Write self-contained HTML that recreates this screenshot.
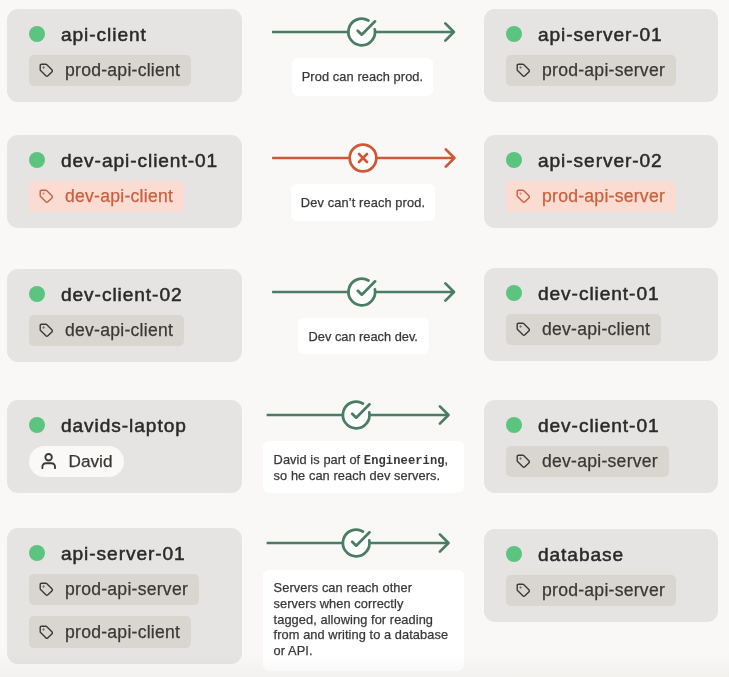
<!DOCTYPE html>
<html><head><meta charset="utf-8"><style>
html,body{margin:0;padding:0}
body{width:729px;height:677px;background:#f9f8f6;position:relative;overflow:hidden;font-family:"Liberation Sans",sans-serif}
.card{position:absolute;background:#e5e4e2;border-radius:11px;box-sizing:border-box;will-change:transform}
.dot{position:absolute;left:21.6px;top:17.45px;width:16px;height:16px;border-radius:50%;background:#5bc47e}
.title{position:absolute;left:53.7px;top:13.6px;font-size:18.5px;line-height:24px;font-weight:400;letter-spacing:0.9px;-webkit-text-stroke:0.5px #2a2a2a;color:#2a2a2a;white-space:nowrap;transform:scaleX(1.033);transform-origin:0 0}
.tag{position:absolute;left:21.7px;height:31.5px;background:#d9d6d0;border-radius:5px;color:#3a3835;font-size:17.6px;line-height:31.5px;white-space:nowrap;padding:0 11px 0 36.3px;box-sizing:border-box}
.tag span{position:relative;top:0.6px;letter-spacing:0.25px;-webkit-text-stroke:0.25px currentColor}
.tag.red{background:#fbdcd2;color:#ca5f3e}
.ti{position:absolute;left:10.2px;top:8.6px;width:14.5px;height:14.5px}
.pill{position:absolute;left:21.5px;height:31.7px;background:#faf9f7;border-radius:16px;color:#3a3835;font-size:17.2px;line-height:31.7px;white-space:nowrap;padding:0 11.5px 0 40px;box-sizing:border-box}
.pill span{position:relative;top:0.8px;-webkit-text-stroke:0.25px currentColor}
.ui{position:absolute;left:12.2px;top:7.9px;width:16px;height:16px}
.arr{position:absolute;left:0}
.cap{position:absolute;will-change:transform;background:#fff;border-radius:6px;box-sizing:border-box;color:#383838;font-size:12.8px;line-height:15.8px;letter-spacing:0.1px;-webkit-text-stroke:0.25px #383838}
.c1{text-align:center;white-space:nowrap}
.cl{padding-left:10.6px;white-space:nowrap;letter-spacing:0.08px}
.mono{font-family:"Liberation Mono",monospace;font-weight:700;font-size:12.1px;-webkit-text-stroke:0;line-height:0}
.fade{position:absolute;left:0;top:652px;width:729px;height:25px;background:linear-gradient(to bottom, rgba(40,30,20,0), rgba(40,30,20,0.03))}
</style></head><body>
<div class="card" style="left:7.0px;top:9.1px;width:234.5px;height:93.45px"><div class="dot"></div><div class="title">api-client</div><div class="tag" style="top:45.5px"><svg class="ti" viewBox="0 0 24 24" fill="none" stroke="#3a3835" stroke-width="2.3" stroke-linecap="round" stroke-linejoin="round"><path d="M12.586 2.586A2 2 0 0 0 11.172 2H4a2 2 0 0 0-2 2v7.172a2 2 0 0 0 .586 1.414l8.704 8.704a2.426 2.426 0 0 0 3.42 0l6.58-6.58a2.426 2.426 0 0 0 0-3.42z"/><circle cx="7.5" cy="7.5" r=".45" fill="#3a3835"/></svg><span>prod-api-client</span></div></div><div class="card" style="left:7.0px;top:134.5px;width:234.5px;height:93.45px"><div class="dot"></div><div class="title">dev-api-client-01</div><div class="tag red" style="top:45.5px"><svg class="ti" viewBox="0 0 24 24" fill="none" stroke="#ca5f3e" stroke-width="2.3" stroke-linecap="round" stroke-linejoin="round"><path d="M12.586 2.586A2 2 0 0 0 11.172 2H4a2 2 0 0 0-2 2v7.172a2 2 0 0 0 .586 1.414l8.704 8.704a2.426 2.426 0 0 0 3.42 0l6.58-6.58a2.426 2.426 0 0 0 0-3.42z"/><circle cx="7.5" cy="7.5" r=".45" fill="#ca5f3e"/></svg><span>dev-api-client</span></div></div><div class="card" style="left:7.0px;top:268.7px;width:234.5px;height:93.45px"><div class="dot"></div><div class="title">dev-client-02</div><div class="tag" style="top:45.5px"><svg class="ti" viewBox="0 0 24 24" fill="none" stroke="#3a3835" stroke-width="2.3" stroke-linecap="round" stroke-linejoin="round"><path d="M12.586 2.586A2 2 0 0 0 11.172 2H4a2 2 0 0 0-2 2v7.172a2 2 0 0 0 .586 1.414l8.704 8.704a2.426 2.426 0 0 0 3.42 0l6.58-6.58a2.426 2.426 0 0 0 0-3.42z"/><circle cx="7.5" cy="7.5" r=".45" fill="#3a3835"/></svg><span>dev-api-client</span></div></div><div class="card" style="left:7.0px;top:399.7px;width:234.5px;height:93.45px"><div class="dot"></div><div class="title">davids-laptop</div><div class="pill" style="top:45.5px"><svg class="ui" viewBox="0 0 16 16" fill="none" stroke="#3a3835" stroke-width="1.85" stroke-linecap="round"><circle cx="7.6" cy="4.25" r="3.25"/><path d="M1.4 15.2v-1.5a3.5 3.5 0 0 1 3.5-3.5h5.6a3.5 3.5 0 0 1 3.5 3.5v1.5"/></svg><span>David</span></div></div><div class="card" style="left:7.0px;top:528.0px;width:234.5px;height:135.5px"><div class="dot"></div><div class="title">api-server-01</div><div class="tag" style="top:45.5px"><svg class="ti" viewBox="0 0 24 24" fill="none" stroke="#3a3835" stroke-width="2.3" stroke-linecap="round" stroke-linejoin="round"><path d="M12.586 2.586A2 2 0 0 0 11.172 2H4a2 2 0 0 0-2 2v7.172a2 2 0 0 0 .586 1.414l8.704 8.704a2.426 2.426 0 0 0 3.42 0l6.58-6.58a2.426 2.426 0 0 0 0-3.42z"/><circle cx="7.5" cy="7.5" r=".45" fill="#3a3835"/></svg><span>prod-api-server</span></div><div class="tag" style="top:88.4px"><svg class="ti" viewBox="0 0 24 24" fill="none" stroke="#3a3835" stroke-width="2.3" stroke-linecap="round" stroke-linejoin="round"><path d="M12.586 2.586A2 2 0 0 0 11.172 2H4a2 2 0 0 0-2 2v7.172a2 2 0 0 0 .586 1.414l8.704 8.704a2.426 2.426 0 0 0 3.42 0l6.58-6.58a2.426 2.426 0 0 0 0-3.42z"/><circle cx="7.5" cy="7.5" r=".45" fill="#3a3835"/></svg><span>prod-api-client</span></div></div><div class="card" style="left:484.1px;top:9.0px;width:234.2px;height:93.45px"><div class="dot"></div><div class="title">api-server-01</div><div class="tag" style="top:45.5px"><svg class="ti" viewBox="0 0 24 24" fill="none" stroke="#3a3835" stroke-width="2.3" stroke-linecap="round" stroke-linejoin="round"><path d="M12.586 2.586A2 2 0 0 0 11.172 2H4a2 2 0 0 0-2 2v7.172a2 2 0 0 0 .586 1.414l8.704 8.704a2.426 2.426 0 0 0 3.42 0l6.58-6.58a2.426 2.426 0 0 0 0-3.42z"/><circle cx="7.5" cy="7.5" r=".45" fill="#3a3835"/></svg><span>prod-api-server</span></div></div><div class="card" style="left:484.1px;top:134.7px;width:234.2px;height:93.45px"><div class="dot"></div><div class="title">api-server-02</div><div class="tag red" style="top:45.5px"><svg class="ti" viewBox="0 0 24 24" fill="none" stroke="#ca5f3e" stroke-width="2.3" stroke-linecap="round" stroke-linejoin="round"><path d="M12.586 2.586A2 2 0 0 0 11.172 2H4a2 2 0 0 0-2 2v7.172a2 2 0 0 0 .586 1.414l8.704 8.704a2.426 2.426 0 0 0 3.42 0l6.58-6.58a2.426 2.426 0 0 0 0-3.42z"/><circle cx="7.5" cy="7.5" r=".45" fill="#ca5f3e"/></svg><span>prod-api-server</span></div></div><div class="card" style="left:484.1px;top:268.4px;width:234.2px;height:93.45px"><div class="dot"></div><div class="title">dev-client-01</div><div class="tag" style="top:45.5px"><svg class="ti" viewBox="0 0 24 24" fill="none" stroke="#3a3835" stroke-width="2.3" stroke-linecap="round" stroke-linejoin="round"><path d="M12.586 2.586A2 2 0 0 0 11.172 2H4a2 2 0 0 0-2 2v7.172a2 2 0 0 0 .586 1.414l8.704 8.704a2.426 2.426 0 0 0 3.42 0l6.58-6.58a2.426 2.426 0 0 0 0-3.42z"/><circle cx="7.5" cy="7.5" r=".45" fill="#3a3835"/></svg><span>dev-api-client</span></div></div><div class="card" style="left:484.1px;top:399.7px;width:234.2px;height:93.45px"><div class="dot"></div><div class="title">dev-client-01</div><div class="tag" style="top:45.5px"><svg class="ti" viewBox="0 0 24 24" fill="none" stroke="#3a3835" stroke-width="2.3" stroke-linecap="round" stroke-linejoin="round"><path d="M12.586 2.586A2 2 0 0 0 11.172 2H4a2 2 0 0 0-2 2v7.172a2 2 0 0 0 .586 1.414l8.704 8.704a2.426 2.426 0 0 0 3.42 0l6.58-6.58a2.426 2.426 0 0 0 0-3.42z"/><circle cx="7.5" cy="7.5" r=".45" fill="#3a3835"/></svg><span>dev-api-server</span></div></div><div class="card" style="left:484.1px;top:528.9px;width:234.2px;height:93.45px"><div class="dot"></div><div class="title">database</div><div class="tag" style="top:45.5px"><svg class="ti" viewBox="0 0 24 24" fill="none" stroke="#3a3835" stroke-width="2.3" stroke-linecap="round" stroke-linejoin="round"><path d="M12.586 2.586A2 2 0 0 0 11.172 2H4a2 2 0 0 0-2 2v7.172a2 2 0 0 0 .586 1.414l8.704 8.704a2.426 2.426 0 0 0 3.42 0l6.58-6.58a2.426 2.426 0 0 0 0-3.42z"/><circle cx="7.5" cy="7.5" r=".45" fill="#3a3835"/></svg><span>prod-api-server</span></div></div><svg class="arr" width="729" height="60" style="top:1.6000000000000014px" viewBox="0 1.6000000000000014 729 60"><line x1="272" y1="31.6" x2="452.9" y2="31.6" stroke="#4a7d64" stroke-width="2.67"/><polyline points="445.29999999999995,23.0 453.9,31.6 445.29999999999995,40.2" fill="none" stroke="#4a7d64" stroke-width="2.7" stroke-linecap="round" stroke-linejoin="round"/><g transform="translate(345.7,15.600000000000001) scale(1.3333333333333333)"><circle cx="12" cy="12" r="10" fill="#fff"/><path d="M21.801 10A10 10 0 1 1 17 3.335" fill="none" stroke="#4a7d64" stroke-width="2.05" stroke-linecap="round" stroke-linejoin="round"/><path d="m9 11 3 3L22 4" fill="none" stroke="#4a7d64" stroke-width="2.05" stroke-linecap="round" stroke-linejoin="round"/></g></svg><svg class="arr" width="729" height="60" style="top:127.9px" viewBox="0 127.9 729 60"><line x1="272.1" y1="157.9" x2="453.4" y2="157.9" stroke="#cf5936" stroke-width="2.67"/><polyline points="445.79999999999995,149.3 454.4,157.9 445.79999999999995,166.5" fill="none" stroke="#cf5936" stroke-width="2.7" stroke-linecap="round" stroke-linejoin="round"/><g transform="translate(347.0,141.9) scale(1.3333333333333333)"><circle cx="12" cy="12" r="10" fill="#fff"/><circle cx="12" cy="12" r="10" fill="none" stroke="#cf5936" stroke-width="2.05"/><path d="m15 9-6 6M9 9l6 6" fill="none" stroke="#cf5936" stroke-width="2.05" stroke-linecap="round"/></g></svg><svg class="arr" width="729" height="60" style="top:261.6px" viewBox="0 261.6 729 60"><line x1="272.1" y1="291.6" x2="453.0" y2="291.6" stroke="#4a7d64" stroke-width="2.67"/><polyline points="445.4,283.0 454.0,291.6 445.4,300.20000000000005" fill="none" stroke="#4a7d64" stroke-width="2.7" stroke-linecap="round" stroke-linejoin="round"/><g transform="translate(345.8,275.6) scale(1.3333333333333333)"><circle cx="12" cy="12" r="10" fill="#fff"/><path d="M21.801 10A10 10 0 1 1 17 3.335" fill="none" stroke="#4a7d64" stroke-width="2.05" stroke-linecap="round" stroke-linejoin="round"/><path d="m9 11 3 3L22 4" fill="none" stroke="#4a7d64" stroke-width="2.05" stroke-linecap="round" stroke-linejoin="round"/></g></svg><svg class="arr" width="729" height="60" style="top:384.5px" viewBox="0 384.5 729 60"><line x1="266.6" y1="414.5" x2="447.5" y2="414.5" stroke="#4a7d64" stroke-width="2.67"/><polyline points="439.9,405.9 448.5,414.5 439.9,423.1" fill="none" stroke="#4a7d64" stroke-width="2.7" stroke-linecap="round" stroke-linejoin="round"/><g transform="translate(340.2,398.5) scale(1.3333333333333333)"><circle cx="12" cy="12" r="10" fill="#fff"/><path d="M21.801 10A10 10 0 1 1 17 3.335" fill="none" stroke="#4a7d64" stroke-width="2.05" stroke-linecap="round" stroke-linejoin="round"/><path d="m9 11 3 3L22 4" fill="none" stroke="#4a7d64" stroke-width="2.05" stroke-linecap="round" stroke-linejoin="round"/></g></svg><svg class="arr" width="729" height="60" style="top:512.8px" viewBox="0 512.8 729 60"><line x1="266.6" y1="542.8" x2="447.5" y2="542.8" stroke="#4a7d64" stroke-width="2.67"/><polyline points="439.9,534.1999999999999 448.5,542.8 439.9,551.4" fill="none" stroke="#4a7d64" stroke-width="2.7" stroke-linecap="round" stroke-linejoin="round"/><g transform="translate(340.2,526.8) scale(1.3333333333333333)"><circle cx="12" cy="12" r="10" fill="#fff"/><path d="M21.801 10A10 10 0 1 1 17 3.335" fill="none" stroke="#4a7d64" stroke-width="2.05" stroke-linecap="round" stroke-linejoin="round"/><path d="m9 11 3 3L22 4" fill="none" stroke="#4a7d64" stroke-width="2.05" stroke-linecap="round" stroke-linejoin="round"/></g></svg><div class="cap" style="left:292px;top:58.4px;width:141px;height:37.6px;padding-top:11.4px"><div class="c1">Prod can reach prod.</div></div><div class="cap" style="left:291px;top:184.2px;width:144px;height:36.60000000000002px;padding-top:10.6px"><div class="c1" style="letter-spacing:0.13px">Dev can’t reach prod.</div></div><div class="cap" style="left:297.5px;top:318.2px;width:130.5px;height:36.30000000000001px;padding-top:10.6px"><div class="c1" style="letter-spacing:0">Dev can reach dev.</div></div><div class="cap" style="left:262.7px;top:441.3px;width:200.60000000000002px;height:52.19999999999999px;padding-top:11.1px"><div class="cl">David is part of <b class="mono">Engineering</b>,<br>so he can reach dev servers.</div></div><div class="cap" style="left:262.7px;top:569.9px;width:200.60000000000002px;height:100.5px;padding-top:10.1px"><div class="cl">Servers can reach other<br>servers when correctly<br>tagged, allowing for reading<br>from and writing to a database<br>or API.</div></div>
<div class="fade"></div>
</body></html>
